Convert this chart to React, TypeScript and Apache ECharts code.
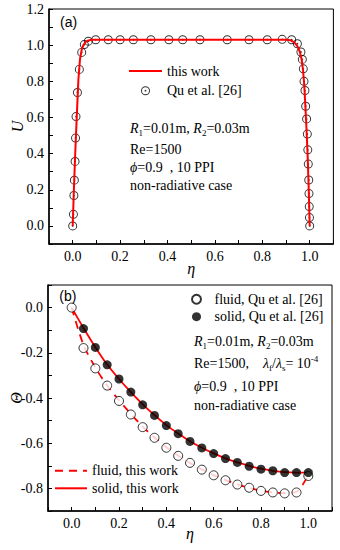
import React, { useEffect, useRef } from 'react';
import * as echarts from 'echarts';

// ---------- Panel (a): velocity U vs eta ----------
const quEtaA = [0, 0.003, 0.005, 0.007, 0.01, 0.012, 0.014, 0.02, 0.028, 0.038, 0.049, 0.066, 0.097, 0.15, 0.2, 0.256, 0.33, 0.406, 0.464, 0.537, 0.652, 0.744, 0.821, 0.884, 0.924, 0.948, 0.963, 0.969, 0.973, 0.976, 0.98, 0.983, 0.987, 0.99, 0.992, 0.994, 0.996, 0.997, 0.998, 0.999, 1.0];
const quUA = [0, 0.064, 0.168, 0.253, 0.357, 0.486, 0.605, 0.738, 0.866, 0.96, 1.003, 1.022, 1.03, 1.03, 1.03, 1.03, 1.03, 1.03, 1.03, 1.03, 1.03, 1.03, 1.03, 1.032, 1.03, 1.008, 0.962, 0.921, 0.869, 0.8, 0.749, 0.662, 0.592, 0.508, 0.421, 0.342, 0.254, 0.179, 0.107, 0.046, 0.0];
const lineEtaA = [0, 0.005, 0.01, 0.017, 0.024, 0.031, 0.038, 0.045, 0.055, 0.066, 0.08, 0.1, 0.9, 0.92, 0.935, 0.948, 0.958, 0.966, 0.972, 0.977, 0.981, 0.986, 0.991, 0.996, 1.0];
const lineUA = [0, 0.2, 0.38, 0.6, 0.81, 0.925, 0.975, 1.0, 1.018, 1.026, 1.03, 1.03, 1.03, 1.027, 1.015, 0.995, 0.965, 0.92, 0.86, 0.78, 0.68, 0.55, 0.4, 0.2, 0];

// ---------- Panel (b): temperature Theta vs eta ----------
const etaB = [0, 0.05, 0.1, 0.15, 0.2, 0.25, 0.3, 0.35, 0.4, 0.45, 0.5, 0.55, 0.6, 0.65, 0.7, 0.75, 0.8, 0.85, 0.9, 0.95, 1.0];
const fluidQuB = [0, -0.179, -0.269, -0.345, -0.413, -0.473, -0.529, -0.576, -0.62, -0.656, -0.687, -0.717, -0.742, -0.764, -0.783, -0.797, -0.811, -0.818, -0.822, -0.818, -0.745];
const solidEtaB = [0.05, 0.1, 0.15, 0.2, 0.25, 0.3, 0.35, 0.4, 0.45, 0.5, 0.55, 0.6, 0.65, 0.7, 0.75, 0.8, 0.85, 0.9, 0.95, 1.0];
const solidQuB = [-0.093, -0.176, -0.253, -0.316, -0.374, -0.43, -0.477, -0.522, -0.558, -0.592, -0.621, -0.646, -0.668, -0.685, -0.702, -0.715, -0.722, -0.73, -0.73, -0.73];
const fluidLineB = [0, -0.165, -0.265, -0.345, -0.41, -0.47, -0.527, -0.575, -0.618, -0.655, -0.688, -0.716, -0.741, -0.763, -0.782, -0.798, -0.81, -0.818, -0.821, -0.815, -0.74];
const solidLineB = [0, -0.09, -0.175, -0.252, -0.316, -0.374, -0.428, -0.476, -0.52, -0.557, -0.591, -0.62, -0.645, -0.667, -0.685, -0.7, -0.713, -0.722, -0.728, -0.73, -0.73];

// ---------- Tick labels ----------
const xTickLabels = ['0.0', '0.2', '0.4', '0.6', '0.8', '1.0'];
const yTickLabelsA = ['0.0', '0.2', '0.4', '0.6', '0.8', '1.0', '1.2'];
const yTickLabelsB = ['0.0', '-0.2', '-0.4', '-0.6', '-0.8'];

const zip = (xs: number[], ys: number[]) => xs.map((x, i) => [x, ys[i]]);
const fmt = (list: string[]) => (v: number) => {
  const s = (Math.round(v * 10) / 10).toFixed(1);
  return list.includes(s) ? s : '';
};

const SERIF = 'Liberation Serif';
const QU_SYMBOL =
  'path://M10,0A10,10,0,1,1,10,20A10,10,0,1,1,10,0ZM10,2.2A7.8,7.8,0,1,0,10,17.8A7.8,7.8,0,1,0,10,2.2ZM10,8A2,2,0,1,1,10,12A2,2,0,1,1,10,8Z';

const rich = {
  n: { fontFamily: SERIF, fontSize: 14, lineHeight: 18, verticalAlign: 'middle', fill: '#000' },
  i: { fontFamily: SERIF, fontSize: 14, fontStyle: 'italic', lineHeight: 18, verticalAlign: 'middle', fill: '#000' },
  s: { fontFamily: SERIF, fontSize: 9, lineHeight: 18, verticalAlign: 'bottom', fill: '#000' },
  sup: { fontFamily: SERIF, fontSize: 9, lineHeight: 18, verticalAlign: 'top', fill: '#000' },
};

const richText = (x: number, cy: number, text: string) => ({
  type: 'text',
  x,
  y: cy,
  style: { text, rich, verticalAlign: 'middle', align: 'left', fontFamily: SERIF, fontSize: 14, fill: '#000' },
});

const xAxisCfg = (gridIndex: number, nameGap: number) => ({
  gridIndex,
  type: 'value',
  min: -0.1,
  max: 1.1,
  interval: 0.1,
  name: 'η',
  nameLocation: 'middle',
  nameGap,
  nameMoveOverlap: false,
  nameTextStyle: { fontFamily: SERIF, fontStyle: 'italic', fontSize: 16, color: '#000' },
  axisLine: { onZero: false, lineStyle: { color: '#000', width: 1.5 } },
  axisTick: { inside: true, length: 4, lineStyle: { color: '#000', width: 1 } },
  axisLabel: { formatter: fmt(xTickLabels), fontFamily: SERIF, fontSize: 14, color: '#000', margin: 5 },
  splitLine: { show: false },
});

const yAxisCfg = (gridIndex: number, min: number, max: number, labels: string[], name: string) => ({
  gridIndex,
  type: 'value',
  min,
  max,
  interval: 0.1,
  name,
  nameLocation: 'middle',
  nameGap: 24,
  nameMoveOverlap: false,
  nameTextStyle: { fontFamily: SERIF, fontStyle: 'italic', fontSize: 16, color: '#000' },
  axisLine: { onZero: false, lineStyle: { color: '#000', width: 1.5 } },
  axisTick: { inside: true, length: 4, lineStyle: { color: '#000', width: 1 } },
  axisLabel: { formatter: fmt(labels), fontFamily: SERIF, fontSize: 14, color: '#000', margin: 5 },
  splitLine: { show: false },
});

export default function App() {
  const ref = useRef<HTMLDivElement>(null);
  useEffect(() => {
    document.body.style.margin = '0';
    const chart = echarts.init(ref.current as HTMLDivElement, null, { renderer: 'svg' });
    const legendText = { fontFamily: SERIF, fontSize: 14, color: '#000' };
    const hideSym = { opacity: 0 };
    chart.setOption({
      animation: false,
      backgroundColor: '#fff',
      textStyle: { fontFamily: SERIF },
      grid: [
        { left: 49, top: 9, width: 284.4, height: 235, show: true, borderColor: '#000', borderWidth: 1, outerBoundsMode: 'none' },
        { left: 48, top: 285, width: 284, height: 226, show: true, borderColor: '#000', borderWidth: 1, outerBoundsMode: 'none' },
      ],
      xAxis: [xAxisCfg(0, 16), xAxisCfg(1, 14)],
      yAxis: [yAxisCfg(0, -0.1, 1.2, yTickLabelsA, 'U'), yAxisCfg(1, -0.9, 0.1, yTickLabelsB, 'Θ')],
      legend: [
        {
          data: [{ name: 'this work', itemStyle: hideSym }, 'Qu et al. [26]'],
          left: 128, top: 64, orient: 'vertical', padding: 0,
          itemWidth: 33, itemHeight: 9, itemGap: 5.7, selectedMode: false, textStyle: legendText,
        },
        {
          data: ['fluid, Qu et al. [26]', 'solid, Qu et al. [26]'],
          left: 191, top: 292.3, orient: 'vertical', padding: 0,
          itemWidth: 26, itemHeight: 9, itemGap: 3.4, selectedMode: false, textStyle: legendText,
        },
        {
          data: [{ name: 'fluid, this work', itemStyle: hideSym }, { name: 'solid, this work', itemStyle: hideSym }],
          left: 54, top: 463.7, orient: 'vertical', padding: 0,
          itemWidth: 32, itemHeight: 9, itemGap: 3.6, selectedMode: false, textStyle: legendText,
        },
      ],
      series: [
        {
          name: 'Qu et al. [26]', type: 'scatter', xAxisIndex: 0, yAxisIndex: 0,
          data: zip(quEtaA, quUA), symbol: QU_SYMBOL, symbolSize: 9,
          itemStyle: { color: '#000' }, z: 2,
        },
        {
          name: 'this work', type: 'line', xAxisIndex: 0, yAxisIndex: 0,
          data: zip(lineEtaA, lineUA), symbol: 'none', smooth: false,
          lineStyle: { color: '#ff0000', width: 2 }, itemStyle: { color: '#ff0000', opacity: 0 }, z: 3,
        },
        {
          name: 'fluid, this work', type: 'line', xAxisIndex: 1, yAxisIndex: 1,
          data: zip(etaB, fluidLineB), symbol: 'none', smooth: 0.3,
          lineStyle: { color: '#ff0000', width: 1.8, type: [8, 6] }, itemStyle: { color: '#ff0000', opacity: 0 }, z: 2,
        },
        {
          name: 'solid, this work', type: 'line', xAxisIndex: 1, yAxisIndex: 1,
          data: zip(etaB, solidLineB), symbol: 'none', smooth: 0.3,
          lineStyle: { color: '#ff0000', width: 1.8 }, itemStyle: { color: '#ff0000', opacity: 0 }, z: 2,
        },
        {
          name: 'fluid, Qu et al. [26]', type: 'scatter', xAxisIndex: 1, yAxisIndex: 1,
          data: zip(etaB, fluidQuB), symbol: 'circle', symbolSize: 9,
          itemStyle: { color: '#fff', borderColor: '#000', borderWidth: 1 }, z: 3,
        },
        {
          name: 'solid, Qu et al. [26]', type: 'scatter', xAxisIndex: 1, yAxisIndex: 1,
          data: zip(solidEtaB, solidQuB), symbol: 'circle', symbolSize: 9,
          itemStyle: { color: '#000' }, z: 3,
        },
      ],
      graphic: [
        { type: 'text', x: 60, y: 22.3, style: { text: '(a)', fontFamily: 'Liberation Sans', fontSize: 14, fill: '#000', verticalAlign: 'middle' } },
        { type: 'text', x: 59.3, y: 296, style: { text: '(b)', fontFamily: 'Liberation Sans', fontSize: 14, fill: '#000', verticalAlign: 'middle' } },
        richText(130, 128, '{i|R}{s|1}{n|=0.01m, }{i|R}{s|2}{n|=0.03m}'),
        richText(130, 149, '{n|Re=1500}'),
        richText(130, 167.5, '{i|ϕ}{n|=0.9\u00a0\u00a0, 10 PPI}'),
        richText(130, 185, '{n|non-radiative case}'),
        richText(194, 341.5, '{i|R}{s|1}{n|=0.01m, }{i|R}{s|2}{n|=0.03m}'),
        richText(194, 363, '{n|Re=1500,\u00a0\u00a0\u00a0\u00a0}{i|λ}{s|f}{n|/}{i|λ}{s|s}{n|=\u00a010}{sup|-4}'),
        richText(194, 386, '{i|ϕ}{n|=0.9\u00a0\u00a0, 10 PPI}'),
        richText(194, 405, '{n|non-radiative case}'),
      ],
    });
    return () => chart.dispose();
  }, []);
  return <div ref={ref} style={{ width: 340, height: 550 }} />;
}
